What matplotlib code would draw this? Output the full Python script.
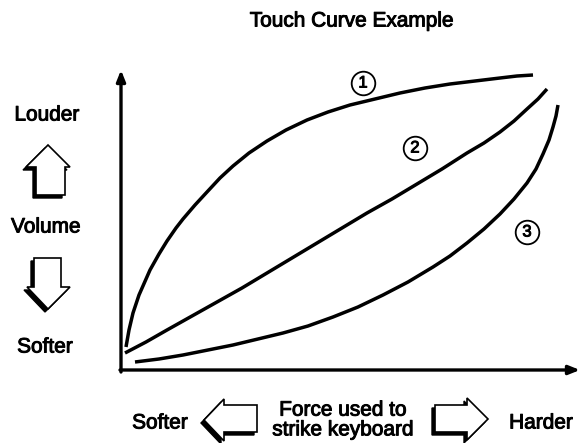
import matplotlib
matplotlib.use('Agg')
import matplotlib.pyplot as plt
import matplotlib.patheffects as pe
from matplotlib.patches import Polygon

plt.rcParams['font.family'] = ['Liberation Sans', 'DejaVu Sans']

# touch curves: force (x) vs volume (y)
curve1_x = [5, 8, 12, 18, 29, 38, 46, 55, 62, 74, 86, 99, 112, 128, 146, 165, 186, 207, 229,
            254, 279, 304, 329, 354, 379, 396, 412]
curve1_y = [23, 40, 57, 75, 100, 116, 129, 142, 151, 165, 178, 192, 204, 217, 229, 240, 250,
            258, 265, 271, 277, 282, 286, 289, 292, 294, 295]
curve2_x = [4, 25, 46, 71, 96, 121, 146, 171, 196, 221, 246, 271, 296, 321, 346, 363, 379,
            393, 406, 417, 426]
curve2_y = [17, 28, 40, 54, 68, 82, 97, 112, 127, 142, 157, 171, 186, 201, 217, 227, 238,
            249, 261, 271, 281]
curve3_x = [14, 38, 62, 87, 112, 137, 162, 187, 212, 237, 262, 287, 312, 329, 346, 363, 379,
            393, 406, 415, 422, 428, 432, 435, 437]
curve3_y = [8, 11, 15, 20, 25, 31, 37, 44, 53, 63, 75, 88, 103, 114, 127, 141, 156, 171, 187,
            201, 216, 230, 243, 254, 265]

curve_labels = ['1', '2', '3']
label_x = [242, 294, 406]
label_y = [287, 222, 138]

title = 'Touch Curve Example'
y_texts = ['Louder', 'Volume', 'Softer']
x_texts = ['Softer', 'Force used to\nstrike keyboard', 'Harder']

W, H = 580, 443
fig = plt.figure(figsize=(W / 100, H / 100), dpi=100)

# overlay in pixel units for the texts and block arrows
deco = fig.add_axes([0, 0, 1, 1])
deco.set_xlim(0, W)
deco.set_ylim(H, 0)
deco.axis('off')

# plot area
ox, oy = 121, 370
pw, ph = 457, 298
ax = fig.add_axes([ox / W, (H - oy) / H, pw / W, ph / H])
ax.set_xlim(0, pw)
ax.set_ylim(0, ph)
ax.axis('off')

lw = 2.5
for xs, ys in [(curve1_x, curve1_y), (curve2_x, curve2_y), (curve3_x, curve3_y)]:
    ax.plot(xs, ys, color='black', lw=lw, solid_capstyle='butt', solid_joinstyle='round',
            clip_on=False)

arrow_props = dict(arrowstyle='-|>,head_length=0.65,head_width=0.26', lw=2.4, color='black',
                   shrinkA=0, shrinkB=0)
ax.annotate('', xy=(0, ph + 2), xytext=(0, -2), arrowprops=arrow_props, annotation_clip=False)
ax.annotate('', xy=(pw + 2, 0), xytext=(-1, 0), arrowprops=arrow_props, annotation_clip=False)

bold = [pe.withStroke(linewidth=0.7, foreground='black')]

for lab, x, y in zip(curve_labels, label_x, label_y):
    ax.plot(x, y, 'o', ms=17, mfc='white', mec='black', mew=1.3, clip_on=False)
    ax.text(x, y, lab, ha='center', va='center', fontsize=12, path_effects=bold)

fs = 15
kw = dict(ha='center', va='center', fontsize=fs, path_effects=bold)
deco.text(352, 21, title, **kw)
deco.text(47, 115, y_texts[0], **kw)
deco.text(46, 227, y_texts[1], **kw)
deco.text(45, 347, y_texts[2], **kw)
deco.text(160, 423, x_texts[0], **kw)
deco.text(343, 420, x_texts[1], linespacing=1.05, **kw)
deco.text(541, 423, x_texts[2], **kw)


def block_arrow(pts):
    shadow = [(x - 3, y + 3) for x, y in pts]
    deco.add_patch(Polygon(shadow, closed=True, fc='black', ec='black', lw=1))
    deco.add_patch(Polygon(pts, closed=True, fc='white', ec='black', lw=1.2))


# up / down arrows beside the volume label
block_arrow([(48, 145), (70, 167), (65, 167), (65, 195), (36, 195), (36, 167), (26, 167)])
block_arrow([(34, 258), (61, 258), (61, 287), (70, 287), (48, 309), (27, 287), (34, 287)])
# left / right arrows beside the force label
block_arrow([(204, 420), (224, 399), (224, 405), (257, 405), (257, 432), (224, 432), (224, 441)])
block_arrow([(435, 405), (467, 405), (467, 398), (488, 419), (467, 440), (467, 432), (435, 432)])

fig.savefig('out.png', dpi=100, facecolor='white')
